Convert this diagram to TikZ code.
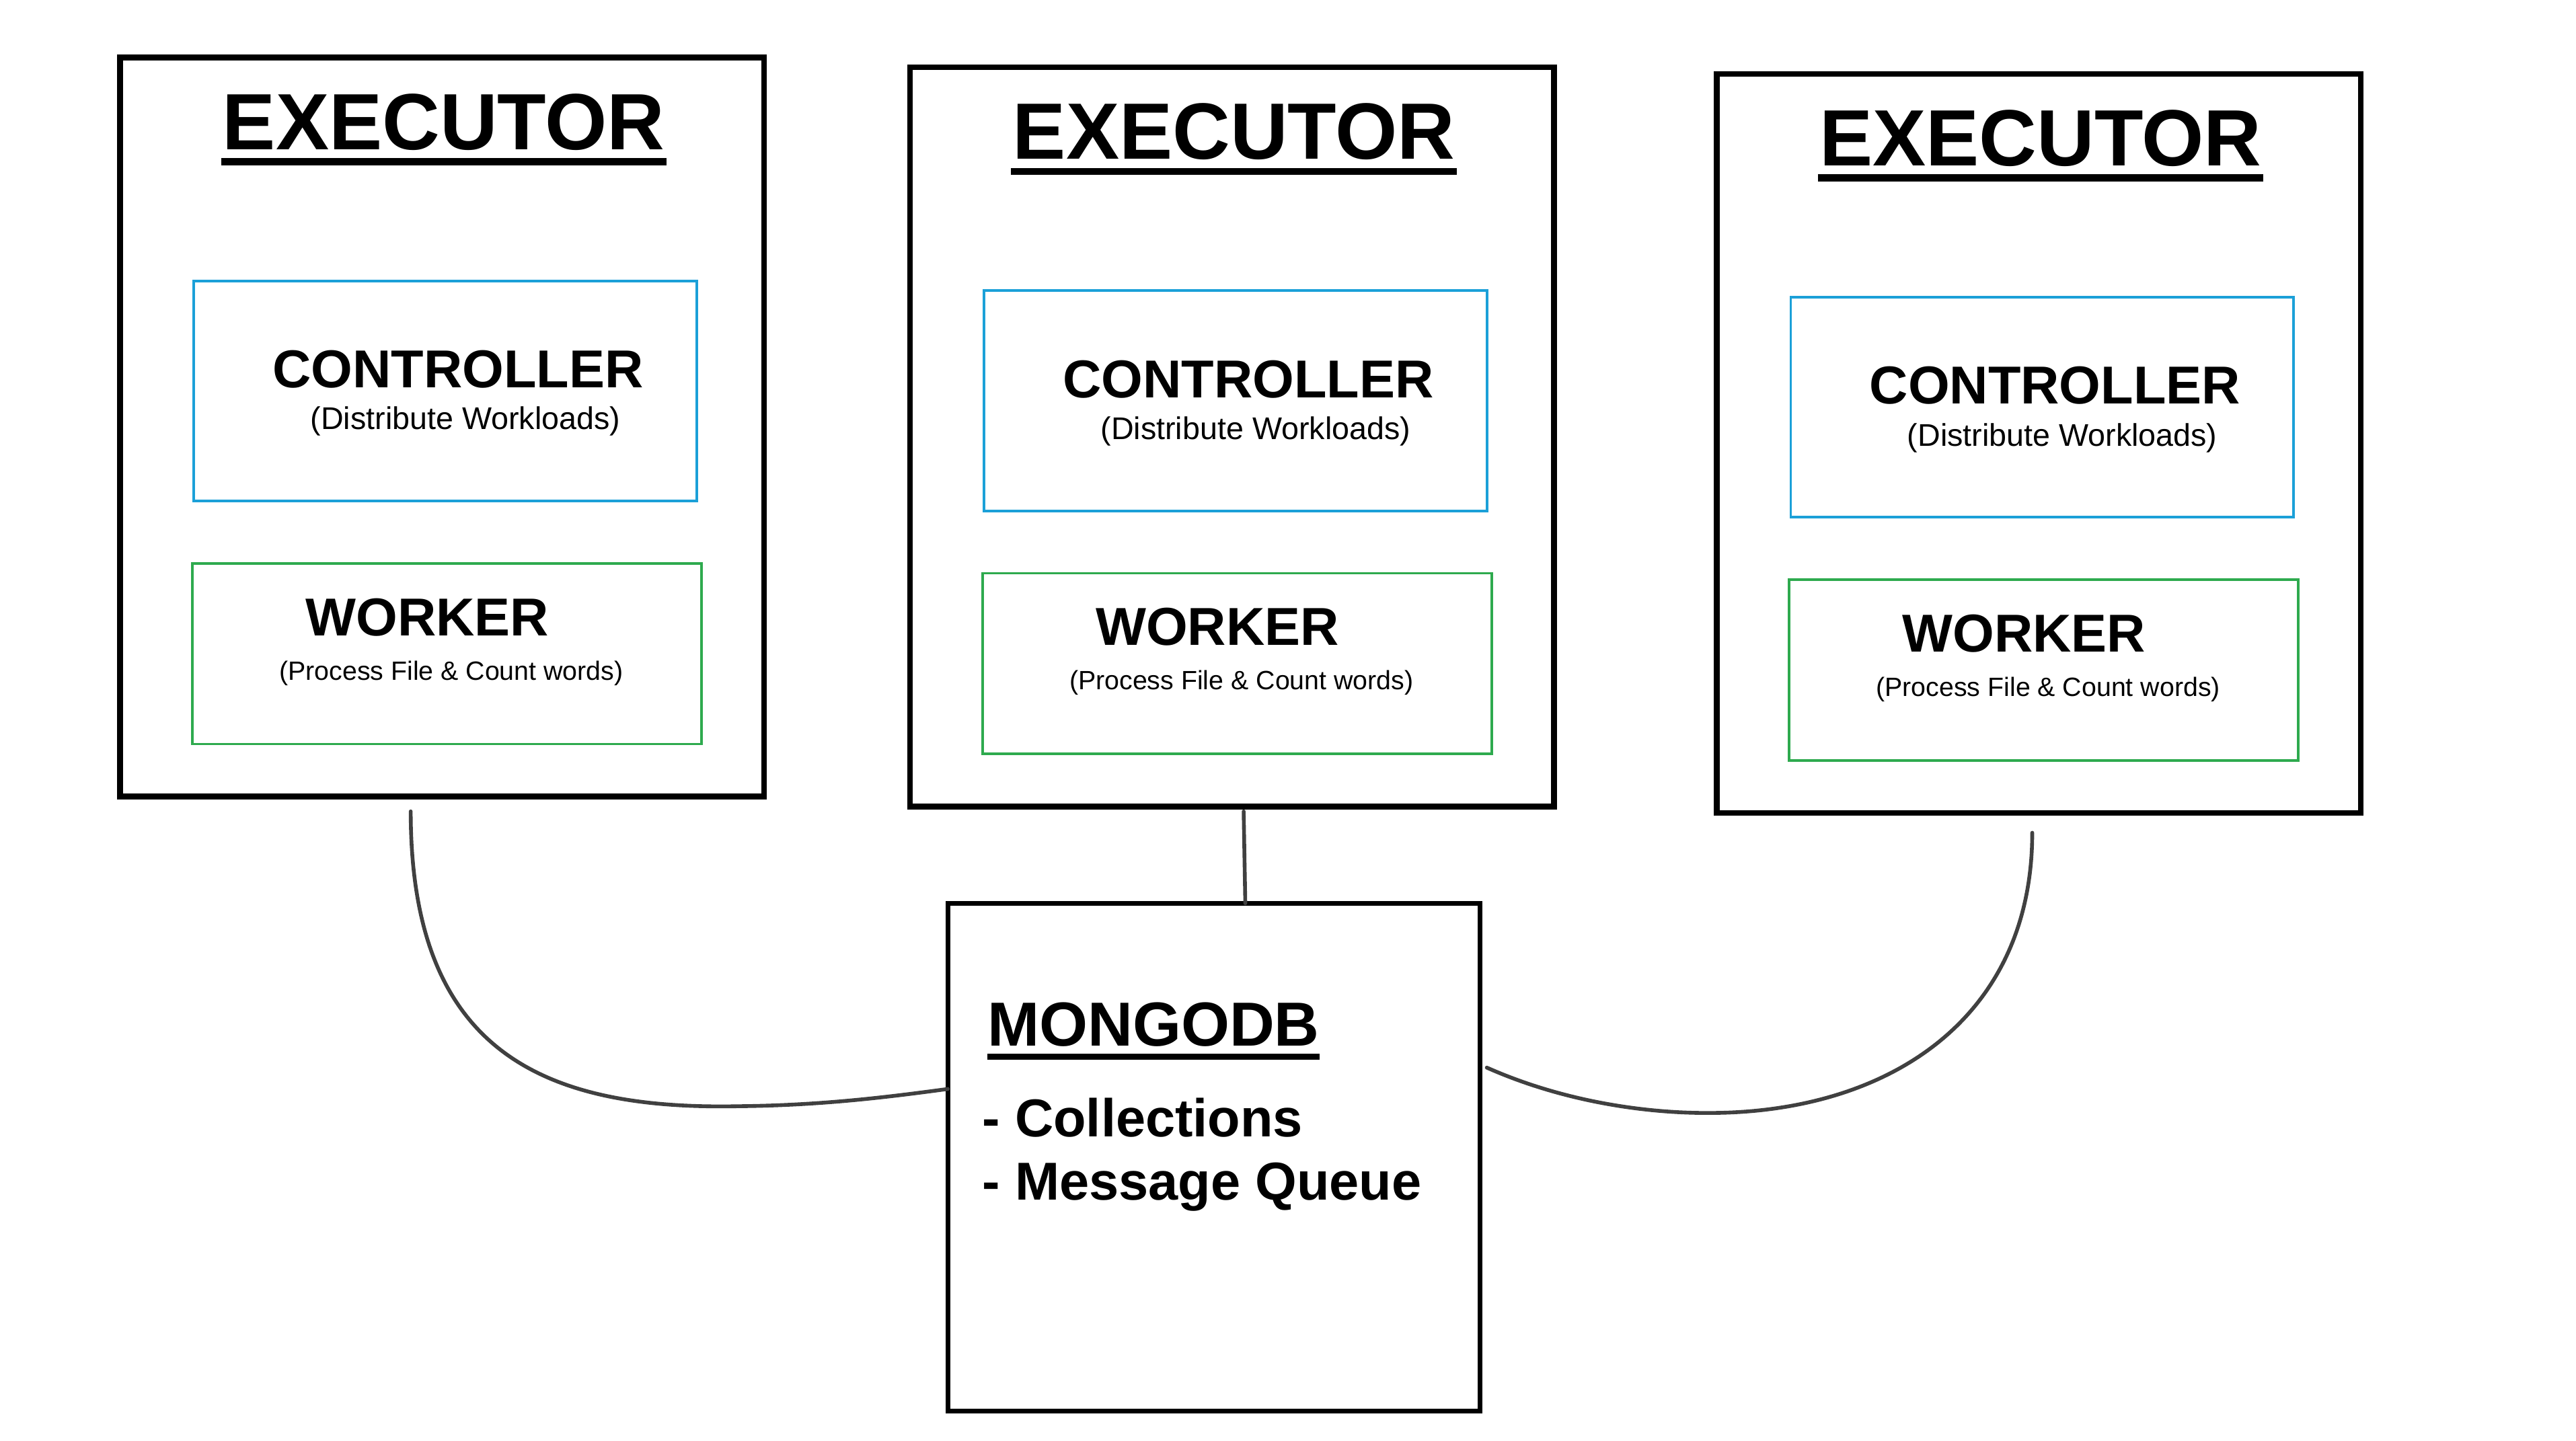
\documentclass[tikz,border=0pt]{standalone}
\usepackage{fontspec}
\setmainfont{Liberation Sans}
\usetikzlibrary{calc}
\definecolor{ctrlblue}{HTML}{1BA0D8}
\definecolor{wrkgreen}{HTML}{2EAA4E}
\definecolor{linkgray}{HTML}{404040}
\begin{document}
\begin{tikzpicture}[x=1pt,y=-1pt,
  execbox/.style={draw=black,line width=3.5pt,inner sep=0pt,outer sep=0pt,anchor=north west},
  ctrlbox/.style={draw=ctrlblue,line width=1.6pt,inner sep=0pt,outer sep=0pt,anchor=north west},
  wrkbox/.style={draw=wrkgreen,line width=1.6pt,inner sep=0pt,outer sep=0pt,anchor=north west},
  dbbox/.style={draw=black,line width=3pt,inner sep=0pt,outer sep=0pt,anchor=north west},
  txt/.style={anchor=base west,inner sep=0pt,outer sep=0pt},
  exectitle/.style={txt,font=\bfseries\fontsize{48.6}{50}\selectfont},
  bigtxt/.style={txt,font=\bfseries\fontsize{32.5}{34}\selectfont},
  dbtitle/.style={txt,font=\bfseries\fontsize{37.9}{40}\selectfont},
  subtxt/.style={txt,font=\fontsize{19.1}{21}\selectfont},
  subtxtw/.style={txt,font=\fontsize{16.1}{18}\selectfont},
  link/.style={draw=linkgray,line width=2.3pt,line cap=round}]
\path[use as bounding box,fill=white] (0,0) rectangle (1568,877);

\foreach \i/\dx/\dy in {1/0/0,2/481/6,3/972/10}{
  \begin{scope}[shift={(\dx,\dy)}]
    \node[execbox,minimum width=392pt,minimum height=450pt] (e\i) at (73,35) {};
    \node[exectitle] (t\i) at (135.5,91) {EXECUTOR};
    \draw[line width=4.5pt] ($(t\i.base west)+(-1,7.4)$) -- ($(t\i.base east)+(1,7.4)$);
    \node[ctrlbox,minimum width=306pt,minimum height=134pt] (c\i) at (118,171) {};
    \node[bigtxt] (ct\i) at (166,236) {CONTROLLER};
    \node[subtxt] (cs\i) at (189,261.5) {(Distribute Workloads)};
    \node[wrkbox,minimum width=310pt,minimum height=110pt] (w\i) at (117,343) {};
    \node[bigtxt] (wt\i) at (186,387) {WORKER};
    \node[subtxtw] (ws\i) at (170,414) {(Process File \& Count words)};
  \end{scope}
}

\node[dbbox,minimum width=324pt,minimum height=309pt] (db) at (577,550) {};
\node[dbtitle] (dbt) at (601,637) {MONGODB};
\draw[line width=3.8pt] ($(dbt.base west)+(0,6.5)$) -- ($(dbt.base east)+(0,6.5)$);
\node[bigtxt] (dbl1) at (598,692) {- Collections};
\node[bigtxt] (dbl2) at (598,730.6) {- Message Queue};

\coordinate (l1) at (250,494);
\coordinate (l2) at (757,494);
\coordinate (l3) at (1237,507);
\coordinate (d1) at (577,663);
\coordinate (d2) at (758,550);
\coordinate (d3) at (905,650);

\draw[link] (l1) .. controls (250,640) and (330,676) .. (450,673.5) .. controls (500,673) and (540,668) .. (d1);
\draw[link] (l2) -- (d2);
\draw[link] (d3) .. controls (950,670) and (1000,678) .. (1042,677.6) .. controls (1150,677) and (1237,620) .. (l3);
\end{tikzpicture}
\end{document}
